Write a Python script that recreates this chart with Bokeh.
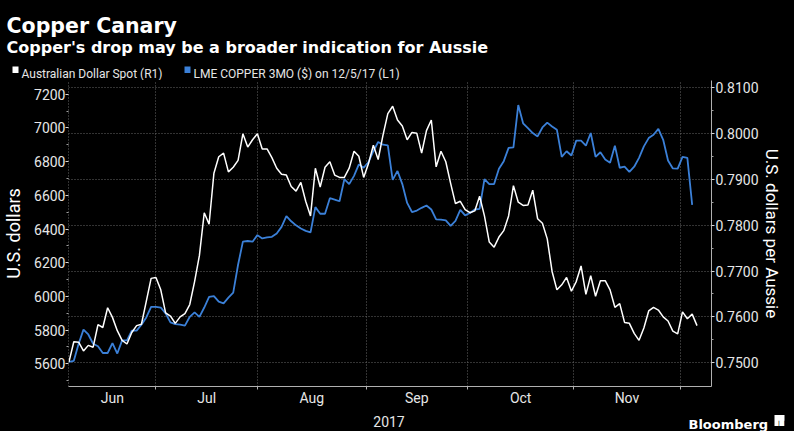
from bokeh.plotting import figure
from bokeh.layouts import column
from bokeh.models import Range1d, LinearAxis, FixedTicker, NumeralTickFormatter, Label, BoxAnnotation
from bokeh.embed import file_html
from bokeh.resources import INLINE

# ---- data ----
aud_spot = [0.7502, 0.7546, 0.7545, 0.7526, 0.7538, 0.7534, 0.7583, 0.7577, 0.7620, 0.7599,
            0.7570, 0.7549, 0.7541, 0.7566, 0.7581, 0.7584, 0.7634, 0.7684, 0.7686, 0.7659,
            0.7609, 0.7602, 0.7586, 0.7600, 0.7607, 0.7627, 0.7677, 0.7734, 0.7827, 0.7802,
            0.7913, 0.7949, 0.7957, 0.7916, 0.7926, 0.7941, 0.7999, 0.7970, 0.7986, 0.7999,
            0.7966, 0.7966, 0.7947, 0.7924, 0.7911, 0.7909, 0.7884, 0.7874, 0.7893, 0.7852,
            0.7820, 0.7924, 0.7883, 0.7926, 0.7938, 0.7909, 0.7904, 0.7904, 0.7924, 0.7961,
            0.7950, 0.7904, 0.7934, 0.7974, 0.7943, 0.7996, 0.8043, 0.8059, 0.8029, 0.8016,
            0.7986, 0.8002, 0.8000, 0.7957, 0.8006, 0.8029, 0.7927, 0.7961, 0.7938, 0.7891,
            0.7847, 0.7852, 0.7834, 0.7827, 0.7831, 0.7863, 0.7820, 0.7763, 0.7752, 0.7774,
            0.7788, 0.7820, 0.7886, 0.7850, 0.7843, 0.7844, 0.7876, 0.7814, 0.7804, 0.7770,
            0.7699, 0.7659, 0.7670, 0.7686, 0.7656, 0.7677, 0.7711, 0.7649, 0.7690, 0.7645,
            0.7679, 0.7679, 0.7659, 0.7621, 0.7629, 0.7588, 0.7586, 0.7564, 0.7549, 0.7576,
            0.7613, 0.7621, 0.7615, 0.7600, 0.7591, 0.7569, 0.7563, 0.7611, 0.7596, 0.7606,
            0.7581]

copper_3mo = [5612, 5618, 5719, 5803, 5774, 5719, 5704, 5664, 5664, 5723,
              5661, 5739, 5739, 5797, 5797, 5832, 5875, 5938, 5938, 5934,
              5899, 5846, 5836, 5832, 5827, 5879, 5905, 5879, 5934, 5997,
              6002, 5969, 5959, 5993, 6022, 6188, 6325, 6329, 6325, 6364,
              6344, 6350, 6354, 6374, 6413, 6477, 6446, 6422, 6403, 6389,
              6380, 6530, 6491, 6491, 6583, 6575, 6565, 6696, 6667, 6716,
              6784, 6764, 6798, 6862, 6917, 6901, 6897, 6692, 6745, 6667,
              6555, 6501, 6510, 6526, 6540, 6516, 6458, 6456, 6452, 6419,
              6448, 6514, 6481, 6495, 6516, 6520, 6696, 6667, 6667, 6758,
              6803, 6882, 6885, 7136, 7028, 6999, 6970, 6950, 7003, 7032,
              7009, 6989, 6829, 6862, 6837, 6925, 6925, 6895, 6970, 6829,
              6856, 6813, 6794, 6895, 6764, 6770, 6739, 6770, 6823, 6891,
              6940, 6960, 6995, 6930, 6807, 6760, 6759, 6829, 6823, 6544]

month_names = ["Jun", "Jul", "Aug", "Sep", "Oct", "Nov"]
month_bounds = [18, 39, 61.5, 82.5, 104.5, 126.5]   # trading-day index of month starts
year_label = "2017"
left_ticks = [5600, 5800, 6000, 6200, 6400, 6600, 6800, 7000, 7200]
left_minor = [5500, 5700, 5900, 6100, 6300, 6500, 6700, 6900, 7100]
right_ticks = [0.75, 0.76, 0.77, 0.78, 0.79, 0.80, 0.81]
right_minor = [0.755, 0.765, 0.775, 0.785, 0.795, 0.805]

title = "Copper Canary"
subtitle = "Copper's drop may be a broader indication for Aussie"
legend_aud = "Australian Dollar Spot  (R1)"
legend_cu = "LME COPPER 3MO ($)  on 12/5/17 (L1)"
source_txt = "Bloomberg"

FONT = "Roboto"
BOLD = "DejaVu Sans"
BLUE = "#3b80d8"
GRID = "#666666"
TXT = "#e6e6e6"
BLACK_BG = {"background-color": "black"}

x_aud = list(range(len(aud_spot)))
x_cu = list(range(len(copper_3mo)))

W, H = 794, 431
HEAD_B = 80              # y where header ends / main chart starts
MAIN_B = 408             # y where main chart ends / footer starts
FL, FR, FT, FB = 64, 711, 80, 390   # plot frame


def blank(h):
    return figure(width=W, height=h, output_backend="svg", toolbar_location=None,
                  x_axis_type=None, y_axis_type=None,
                  x_range=Range1d(0, W), y_range=Range1d(0, h),
                  background_fill_color="black", border_fill_color="black",
                  outline_line_color=None, min_border=0, frame_align=False,
                  styles=BLACK_BG)


def lab(f, top_y, text, px, py, size, font=FONT, bold=False, color="white", align="left"):
    # px, py: picture coordinates of the text anchor (baseline)
    f.add_layout(Label(x=px, y=top_y - py, text=text,
                       text_font=font, text_font_size=f"{size}px",
                       text_font_style="bold" if bold else "normal",
                       text_color=color, text_align=align, text_baseline="alphabetic"))


# ---- header ----
head = blank(HEAD_B)
lab(head, HEAD_B, title, 6, 25, 20.5, font=BOLD, bold=True)
lab(head, HEAD_B, subtitle, 6, 46.5, 16, font=BOLD, bold=True)
head.add_layout(BoxAnnotation(left=12, right=18, bottom=HEAD_B - 72.5, top=HEAD_B - 66,
                              fill_color="white", fill_alpha=1, line_color=None))
lab(head, HEAD_B, legend_aud, 21, 73.5, 12, color=TXT)
head.add_layout(BoxAnnotation(left=184, right=190, bottom=HEAD_B - 72.5, top=HEAD_B - 66,
                              fill_color=BLUE, fill_alpha=1, line_color=None))
lab(head, HEAD_B, legend_cu, 193, 73.5, 12, color=TXT)

# ---- main chart ----
p = figure(width=W, height=MAIN_B - HEAD_B, output_backend="svg", toolbar_location=None,
           x_range=Range1d(-0.1, 133.0), y_range=Range1d(0.74484, 0.81151),
           y_axis_location="right",
           background_fill_color="black", border_fill_color="black",
           outline_line_color=None, frame_align=False, styles=BLACK_BG,
           min_border_left=FL, min_border_right=W - FR,
           min_border_top=FT - HEAD_B, min_border_bottom=MAIN_B - FB)

p.extra_y_ranges = {"cu": Range1d(5465.2, 7282.0)}

ra = p.yaxis[0]
ra.ticker = FixedTicker(ticks=right_ticks, minor_ticks=right_minor)
ra.formatter = NumeralTickFormatter(format="0.0000")
ra.axis_label = "U.S. dollars per Aussie"

la = LinearAxis(y_range_name="cu", ticker=FixedTicker(ticks=left_ticks, minor_ticks=left_minor),
                axis_label="U.S. dollars")
p.add_layout(la, "left")

mids = [(a + b) / 2 for a, b in zip([0] + month_bounds[:-1], month_bounds)]
xa = p.xaxis[0]
xa.ticker = FixedTicker(ticks=mids, minor_ticks=month_bounds)
xa.major_label_overrides = {m: n for m, n in zip(mids, month_names)}

for ax in (ra, la, xa):
    ax.major_label_text_color = TXT
    ax.major_label_text_font = FONT
    ax.major_label_text_font_size = "14px"
    ax.axis_label_text_color = "white"
    ax.axis_label_text_font = FONT
    ax.axis_label_text_font_style = "normal"
    ax.axis_line_color = "#b0b0b0"
    ax.major_tick_line_color = "#d8d8d8"
    ax.minor_tick_line_color = "#a0a0a0"
    ax.major_tick_in = 0
    ax.major_tick_out = 3
    ax.minor_tick_in = 0
    ax.minor_tick_out = 2

ra.major_label_standoff = 1
la.major_label_standoff = 0
ra.axis_label_text_font_size = "17px"
la.axis_label_text_font_size = "18px"
ra.axis_label_standoff = 0
la.axis_label_standoff = 7
la.axis_line_color = GRID
la.axis_line_dash = "1 2"

xa.major_tick_line_color = None
xa.minor_tick_line_color = "#b0b0b0"
xa.minor_tick_out = 3
xa.major_tick_out = 0
xa.major_label_standoff = 0

p.xgrid.ticker = FixedTicker(ticks=month_bounds)
p.ygrid.ticker = FixedTicker(ticks=right_ticks)
for g in (p.xgrid, p.ygrid):
    g.grid_line_color = GRID
    g.grid_line_dash = "1 2"
    g.grid_line_width = 1

p.line(x_cu, copper_3mo, y_range_name="cu", line_color=BLUE, line_width=1.8)
p.line(x_aud, aud_spot, line_color="white", line_width=1.5)

# ---- footer ----
foot = blank(H - MAIN_B)
lab(foot, H, year_label, (FL + FR) / 2 + 1, 420.5, 14, color=TXT, align="center")
lab(foot, H, source_txt, 688, 423.5, 13, font=BOLD, bold=True)
foot.add_layout(BoxAnnotation(left=774, right=784, bottom=H - 425.5, top=H - 414.5,
                              fill_color="white", fill_alpha=1, line_color=None))
lab(foot, H, "\u2758\u2758", 775.5, 423.5, 7, font="DejaVu Sans", color="black")

layout = column(head, p, foot, spacing=0, styles=BLACK_BG)
open("out.html", "w").write(file_html(layout, INLINE))
